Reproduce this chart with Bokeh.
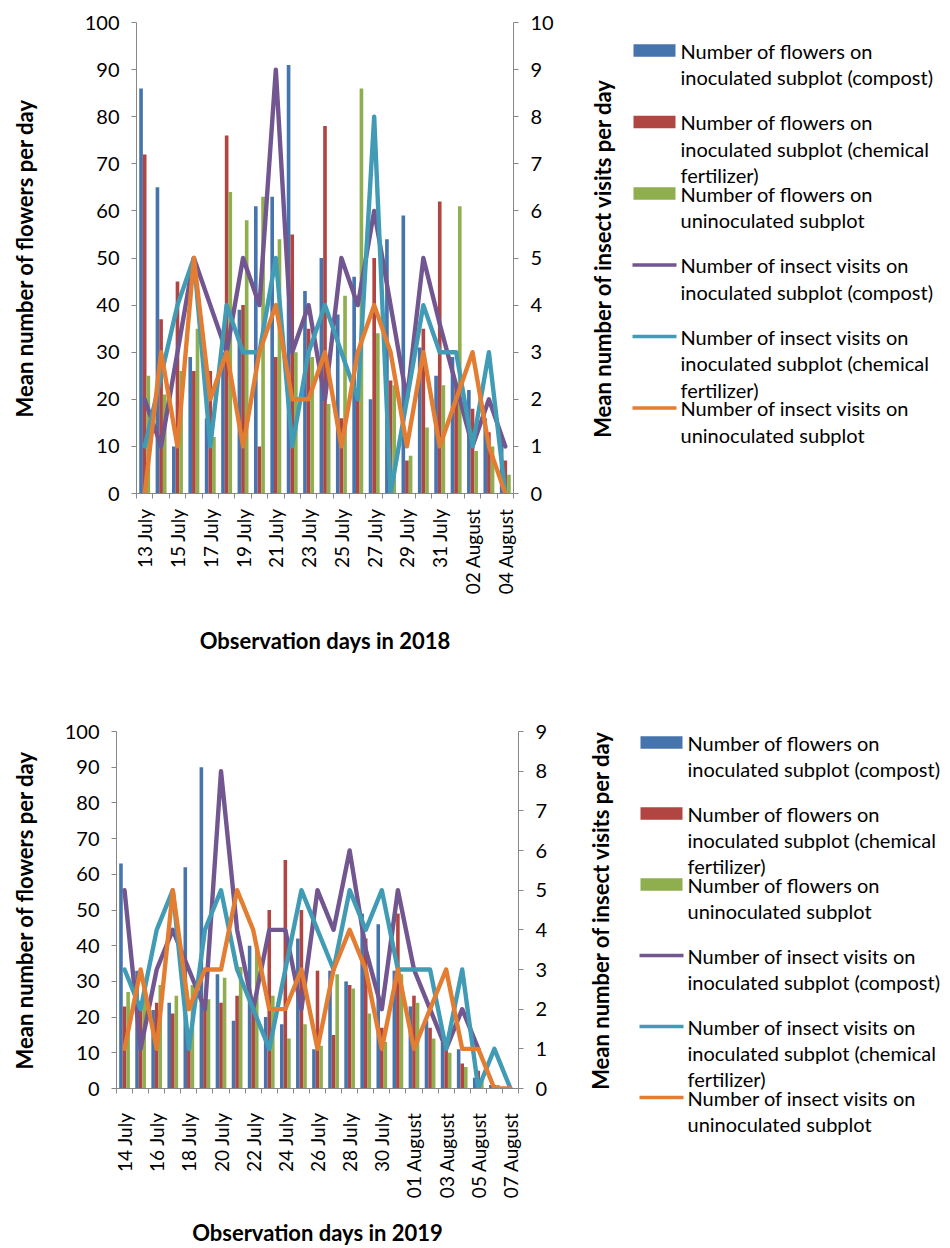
import math
from bokeh.plotting import figure
from bokeh.models import Range1d, LinearAxis, FixedTicker, ColumnDataSource, Grid
from bokeh.layouts import column, row
from bokeh.embed import file_html
from bokeh.resources import INLINE
from bokeh.core.properties import value

NaN = float("nan")

# ---------------- data 2018 ----------------
days_2018 = ["13 July", "14 July", "15 July", "16 July", "17 July", "18 July", "19 July",
             "20 July", "21 July", "22 July", "23 July", "24 July", "25 July", "26 July",
             "27 July", "28 July", "29 July", "30 July", "31 July", "01 August",
             "02 August", "03 August", "04 August"]
flowers_compost_2018 = [86, 65, 10, 29, 16, 30, 39, 61, 63, 91, 43, 50, 38, 46, 20, 54, 59, 31, 25, 29, 22, 16, 12]
flowers_chemical_2018 = [72, 37, 45, 26, 26, 76, 40, 10, 29, 55, 35, 78, 16, 20, 50, 24, 7, 35, 62, 23, 18, 13, 7]
flowers_uninoc_2018 = [25, 21, 26, 35, 12, 64, 58, 63, 54, 30, 29, 19, 42, 86, 34, 23, 8, 14, 23, 61, 9, 10, 4]
visits_compost_2018 = [2, 1, 3, 5, 4, 3, 5, 4, 9, 3, 4, 2, 5, 4, 6, 4, 2, 5, 3.6, 2.3, 1, 2, 1]
visits_chemical_2018 = [1, 2.5, 4, 5, 1, 4, 3, 3, 5, 1, 3, 4, 3, 2, 8, 0, 2, 4, 3, 3, 1, 3, 0]
visits_uninoc_2018 = [0, 3, 1, 5, 2, 3, 1, 3, 4, 2, 2, 3, 1, 3, 4, 3, 1, 3, 1, 2, 3, 1, 0]

# ---------------- data 2019 ----------------
days_2019 = ["14 July", "15 July", "16 July", "17 July", "18 July", "19 July", "20 July",
             "21 July", "22 July", "23 July", "24 July", "25 July", "26 July", "27 July",
             "28 July", "29 July", "30 July", "31 July", "01 August", "02 August",
             "03 August", "04 August", "05 August", "06 August", "07 August"]
flowers_compost_2019 = [63, 33, 22, 24, 62, 90, 32, 19, 40, 20, 18, 42, 11, 33, 30, 49, 46, 33, 23, 19, 13, 11, 3, 1, 0]
flowers_chemical_2019 = [23, 22, 24, 21, 12, 22, 24, 26, 24, 50, 64, 50, 33, 15, 29, 42, 17, 49, 26, 17, 11, 7, 5, 1, 0]
flowers_uninoc_2019 = [27, 25, 29, 26, 29, 25, 31, 34, 39, 26, 14, 18, 12, 32, 28, 21, 13, 32, 24, 14, 10, 6, 2, 1, 0]
visits_compost_2019 = [5, 1, 3, 4, 3, 2, 8, 4, 2, 4, 4, 2, 5, 4, 6, 3.5, 2, 5, 3, 2, 1, 2, 1, NaN, NaN]
visits_chemical_2019 = [3, 2, 4, 5, 1, 4, 5, 3, 2, 1, 3, 5, 4, 3, 5, 4, 5, 3, 3, 3, 1, 3, 0, 1, 0]
visits_uninoc_2019 = [1, 3, 1, 5, 2, 3, 3, 5, 4, 2, 2, 3, 1, 3, 4, 3, 1, 3, 1, 2, 3, 1, 1, 0, 0]

# ---------------- texts ----------------
x_titles = ["Observation days in 2018", "Observation days in 2019"]
y_left_title = "Mean number of flowers per day"
y_right_title = "Mean number of insect visits per day"
flower_ticks = list(range(0, 101, 10))
visit_max = [10, 9]
legend_labels = [
    ["Number of flowers on", "inoculated subplot (compost)"],
    ["Number of flowers on", "inoculated subplot (chemical", "fertilizer)"],
    ["Number of flowers on", "uninoculated subplot"],
    ["Number of insect visits on", "inoculated subplot (compost)"],
    ["Number of insect visits on", "inoculated subplot (chemical", "fertilizer)"],
    ["Number of insect visits on", "uninoculated subplot"],
]

BAR_COLORS = ["#4674AC", "#B04541", "#8FAE4E"]
LINE_COLORS = ["#715690", "#429BB4", "#E27D32"]
AXIS_COLOR = "#878787"
FONT = "Lato"
TITLE_SIZE = "22px"


def no_align(fig):
    try:
        fig.frame_align = False
    except Exception:
        pass


def style_axis(ax):
    ax.axis_line_color = AXIS_COLOR
    ax.major_tick_line_color = AXIS_COLOR
    ax.minor_tick_line_color = AXIS_COLOR
    ax.major_tick_in = 0
    ax.major_tick_out = 5
    ax.minor_tick_in = 0
    ax.minor_tick_out = 0
    ax.major_label_text_font = FONT
    ax.major_label_text_font_size = "20px"
    ax.major_label_text_color = "black"
    ax.axis_label_text_font = FONT
    ax.axis_label_text_font_size = TITLE_SIZE
    ax.axis_label_text_font_style = "bold"
    ax.axis_label_text_color = "black"
    ax.major_label_standoff = 12


def make_chart(days, bars, lines, vmax, xtitle, g):
    n = len(days)
    p = figure(frame_width=g["fw"], frame_height=g["fh"],
               min_border_left=g["bl"], min_border_right=g["br"],
               min_border_top=g["bt"], min_border_bottom=g["bb"],
               x_range=Range1d(-0.5, n - 0.5), y_range=Range1d(0, 100),
               toolbar_location=None, output_backend="svg",
               x_axis_location="below", y_axis_location="left")
    no_align(p)
    p.outline_line_color = None
    p.xgrid.grid_line_color = None
    p.ygrid.grid_line_color = None
    p.background_fill_color = "white"
    p.border_fill_color = "white"
    p.extra_y_ranges = {"visits": Range1d(0, vmax)}

    idx = list(range(n))
    bw = 0.222
    offsets = [-bw, 0.0, bw]
    for vals, off, col in zip(bars, offsets, BAR_COLORS):
        src = ColumnDataSource(dict(x=[i + off for i in idx], top=vals))
        p.vbar(x="x", top="top", bottom=0, width=bw, source=src,
               fill_color=col, line_color=None)
    for vals, col in zip(lines, LINE_COLORS):
        src = ColumnDataSource(dict(x=idx, y=vals))
        p.line(x="x", y="y", source=src, y_range_name="visits",
               line_color=col, line_width=4.4, line_join="round", line_cap="round")

    # left axis
    yl = p.yaxis[0]
    style_axis(yl)
    yl.ticker = FixedTicker(ticks=flower_ticks)
    yl.axis_label = y_left_title
    yl.axis_label_standoff = g["ls"]

    # right axis (its title is drawn next to it, reading upwards)
    yr = LinearAxis(y_range_name="visits")
    style_axis(yr)
    yr.ticker = FixedTicker(ticks=list(range(0, vmax + 1)))
    p.add_layout(yr, "right")

    # bottom axis
    xa = p.xaxis[0]
    style_axis(xa)
    even = [i for i in idx if i % 2 == 0]
    xa.ticker = FixedTicker(ticks=even, minor_ticks=[i - 0.5 for i in range(n + 1)])
    xa.major_label_overrides = {i: days[i] for i in even}
    xa.major_tick_out = 0
    xa.minor_tick_out = 5
    xa.major_label_orientation = math.pi / 2
    xa.major_label_text_font_size = "19px"
    xa.major_label_standoff = g["xs"]
    xa.axis_label = xtitle
    xa.axis_label_standoff = g["bs"]
    return p


def make_legend(width, height, x0, y0, step, gap, sw, title_x, title_y):
    lg = figure(width=width, height=height, x_range=Range1d(0, width),
                y_range=Range1d(height, 0), min_border=0, toolbar_location=None,
                output_backend="svg", x_axis_location=None, y_axis_location=None)
    no_align(lg)
    lg.outline_line_color = None
    lg.background_fill_color = "white"
    lg.border_fill_color = "white"
    for gr in lg.select(type=Grid):
        gr.visible = False
    # right-hand axis title of the chart
    lg.text(x=[title_x], y=[title_y], text=[y_right_title], angle=math.pi / 2,
            text_font=value(FONT), text_font_size=TITLE_SIZE, text_font_style="bold",
            text_align="center", text_baseline="middle", text_color="black")
    colors = BAR_COLORS + LINE_COLORS
    for k, (labels, col) in enumerate(zip(legend_labels, colors)):
        yc = y0 + k * step
        if k < 3:
            lg.rect(x=[x0 + sw / 2], y=[yc], width=sw, height=12.5,
                    fill_color=col, line_color=None)
        else:
            lg.line(x=[x0 - 1, x0 + sw + 1], y=[yc, yc], line_color=col, line_width=3.5)
        lg.text(x=[x0 + sw + 5] * len(labels),
                y=[yc + j * gap for j in range(len(labels))], text=labels,
                text_font=value(FONT), text_font_size="20px",
                text_baseline="middle", text_align="left", text_color="black")
    return lg


g1 = dict(fw=377, fh=471, bl=136, br=72, bt=22, bb=172, ls=44, bs=30, xs=10)
g2 = dict(fw=402, fh=357, bl=116, br=67, bt=66, bb=160, ls=24, bs=18, xs=19)

p1 = make_chart(days_2018,
                [flowers_compost_2018, flowers_chemical_2018, flowers_uninoc_2018],
                [visits_compost_2018, visits_chemical_2018, visits_uninoc_2018],
                visit_max[0], x_titles[0], g1)
p2 = make_chart(days_2019,
                [flowers_compost_2019, flowers_chemical_2019, flowers_uninoc_2019],
                [visits_compost_2019, visits_chemical_2019, visits_uninoc_2019],
                visit_max[1], x_titles[1], g2)

leg1 = make_legend(365, 665, 48, 50, 71.5, 26.7, 42, 17, 257.5)
leg2 = make_legend(365, 583, 55, 77, 71.0, 26.0, 42, 15, 244.5)

layout = column(row(p1, leg1), row(p2, leg2))

open("out.html", "w").write(file_html(layout, INLINE))
